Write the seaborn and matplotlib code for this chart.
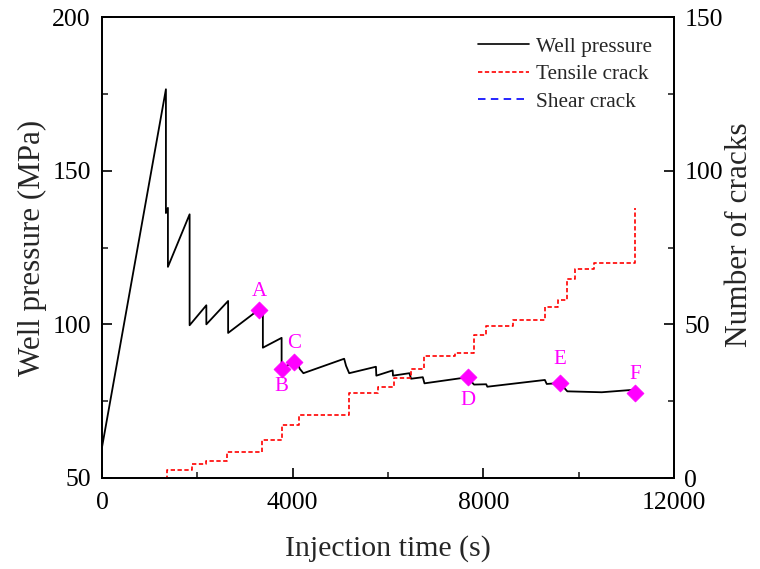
import numpy as np
import pandas as pd
import matplotlib
matplotlib.use("Agg")
import matplotlib.pyplot as plt
import seaborn as sns

# ---------------- data ----------------
# Well pressure curve (time s, pressure MPa)
p_time = [0, 1341, 1341, 1383, 1383, 1838, 1838, 2189, 2189, 2646, 2646, 3291,
          3375, 3375, 3768, 3768, 4027, 4100, 4150, 4225, 5080, 5120, 5186,
          5747, 5755, 6098, 6105, 6449, 6484, 6730, 6765, 7677, 7720, 7804,
          8060, 8084, 9291, 9330, 9606, 9762, 10484, 11151]
p_value = [60, 176.5, 136.2, 137.9, 118.7, 135.8, 99.7, 106.2, 100.0, 107.6, 97.2, 104.8,
           104.5, 92.4, 95.6, 85.5, 87.9, 87.5, 85.5, 84.1, 88.8, 86.5, 84.1,
           86.2, 83.3, 85.0, 83.3, 84.1, 82.3, 82.8, 80.8, 82.8, 81.9, 80.4,
           80.5, 79.7, 81.9, 80.6, 80.9, 78.2, 77.9, 78.7]

# Tensile cracks (step changes: time s, cumulative number)
t_time = [1330, 1360, 1888, 2189, 2625, 3362, 3783, 4133, 5186, 5783, 6133, 6484,
          6765, 7396, 7804, 8063, 8625, 9291, 9572, 9747, 9922, 10330, 11185, 11185]
t_count = [0, 2.5, 4.5, 5.6, 8.6, 12.3, 17.2, 20.5, 27.5, 29.7, 32.6, 35.6,
           39.6, 40.6, 46.4, 49.4, 51.5, 55.7, 57.8, 64.6, 67.9, 69.8, 69.8, 88.0]

# Shear cracks (none observed)
s_time = [1330, 11185]
s_count = [0, 0]

# Marked points A-F
m_label = ["A", "B", "C", "D", "E", "F"]
m_time = [3291, 3768, 4027, 7677, 9606, 11180]
m_value = [104.8, 85.5, 87.9, 82.8, 80.9, 77.8]
m_offset = [13, -13, 13, -17, 17, 13]   # label offset in points (style)

# ---------------- style ----------------
sns.set_style("ticks")
plt.rcParams["font.family"] = ["Liberation Serif", "DejaVu Serif"]

fig = plt.figure(figsize=(7.6, 5.69), dpi=100)
ax = fig.add_axes([102/760, 1-478/569, (674-102)/760, (478-17)/569])
ax2 = ax.twinx()

df_p = pd.DataFrame({"t": p_time, "p": p_value})
df_t = pd.DataFrame({"t": t_time, "n": t_count})
df_s = pd.DataFrame({"t": s_time, "n": s_count})
df_m = pd.DataFrame({"t": m_time, "p": m_value, "lab": m_label})

sns.lineplot(data=df_p, x="t", y="p", ax=ax, color="black", lw=1.3,
             estimator=None, sort=False, legend=False)
sns.lineplot(data=df_t, x="t", y="n", ax=ax2, color="#ff0000", lw=1.2,
             estimator=None, sort=False, drawstyle="steps-post",
             legend=False)
sns.lineplot(data=df_s, x="t", y="n", ax=ax2, color="#0000ff", lw=0.8,
             estimator=None, sort=False, legend=False, zorder=1)
ax2.lines[0].set_dashes((2.6, 1.5))
ax2.lines[1].set_dashes((4.5, 3.2))

sns.scatterplot(data=df_m, x="t", y="p", ax=ax, marker="D", s=75,
                color="#ff00ff", edgecolor="#ff00ff", linewidth=0.5, zorder=5,
                legend=False)
for lab, t, v, off in zip(m_label, m_time, m_value, m_offset):
    ax.annotate(lab, (t, v), xytext=(0, off), textcoords="offset points",
                ha="center", va="center", color="#ff00ff", fontsize=15)

# axes limits / ticks
ax.set_xlim(0, 12000)
ax.set_ylim(50, 200)
ax2.set_ylim(0, 150)
ax.set_xticks([0, 4000, 8000, 12000])
ax.set_xticks([2000, 6000, 10000], minor=True)
ax.set_yticks([50, 100, 150, 200])
ax.set_yticks([75, 125, 175], minor=True)
ax2.set_yticks([0, 50, 100, 150])
ax2.set_yticks([25, 75, 125], minor=True)

for a in (ax, ax2):
    a.tick_params(which="major", direction="in", length=7, width=1.2,
                  labelsize=18.5, colors="black")
    a.tick_params(which="minor", direction="in", length=4.5, width=1.2)
    for sp in a.spines.values():
        sp.set_visible(True)
        sp.set_linewidth(1.3)
        sp.set_color("black")
ax.tick_params(axis="x", which="both", top=False, pad=10)
ax.tick_params(axis="y", which="both", right=False, pad=8)
ax2.tick_params(axis="y", which="both", left=False, right=True, pad=7.5)

ax.set_xlabel("Injection time (s)", fontsize=21.5, labelpad=15)
ax.set_ylabel("Well pressure (MPa)", fontsize=22.3, labelpad=4)
ax2.set_ylabel("Number of cracks", fontsize=22.5)
ax2.yaxis.set_label_coords(1.0 + (725 - 674) / 572, 1 - (235 - 17) / 461)

# legend
handles = [ax.lines[0], ax2.lines[0], ax2.lines[1]]
labels = ["Well pressure", "Tensile crack", "Shear crack"]
leg = ax2.legend(handles, labels, loc="upper left",
                 bbox_to_anchor=((478-102)/572, 1-(37-17)/461),
                 frameon=False, fontsize=15.3, handlelength=2.4,
                 handletextpad=0.35, labelspacing=0.36, borderpad=0,
                 borderaxespad=0)
for h in leg.get_lines():
    h.set_linewidth(1.2)

fig.savefig("out.png", dpi=100, facecolor="white")
